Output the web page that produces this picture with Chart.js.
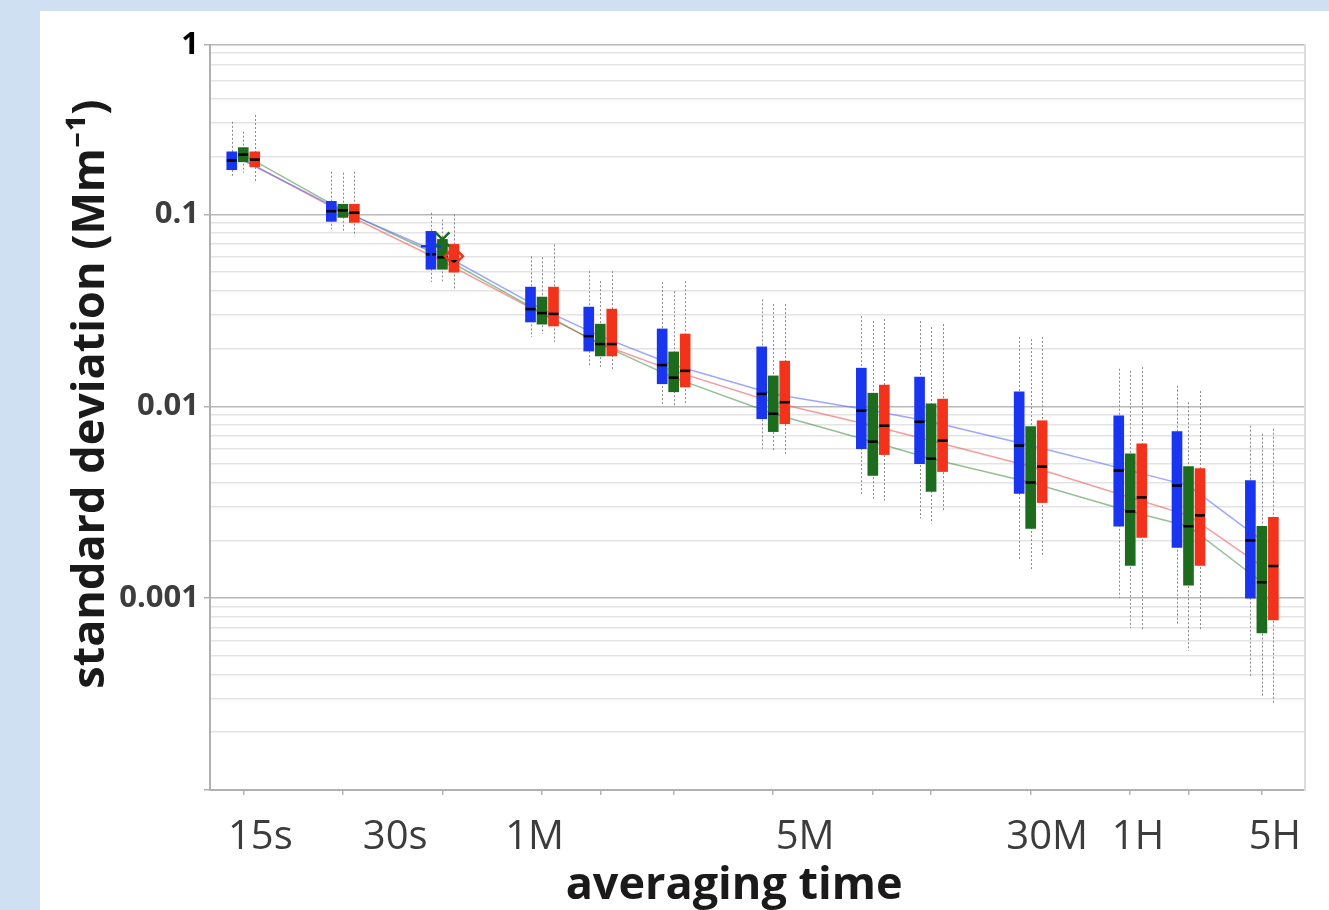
<!DOCTYPE html>
<html>
<head>
<meta charset="utf-8">
<script src="https://cdn.jsdelivr.net/npm/chart.js@4"></script>
<style>
  html, body { margin: 0; padding: 0; background: #cfe0f3; overflow: hidden; }
  #panel { position: absolute; left: 40px; top: 11px; right: 0; bottom: 0; background: #fff; }
  #c { position: absolute; left: 0; top: 0; }
</style>
</head>
<body>
<div id="panel"><canvas id="c" width="1289" height="905"></canvas></div>
<script>
// averaging times of the 13 box groups, in seconds
const groupTimes = [15, 30, 60, 120, 180, 300, 600, 1200, 1800, 3600, 7200, 10800, 18000];

// x labels: the picture prints them off their ticks, so keep where they sit (s)
const xLabelText = ['15s', '30s', '1M', '5M', '30M', '1H', '5H'];
const xLabelPlace = [16.9, 43.2, 114, 749, 4040, 7600, 19700];

// y axis: the top of the plot is labelled "1"
const yTop = 0.764;
const yMin = 0.0001;
const yTickValues = [yTop, 0.1, 0.01, 0.001];
const yTickLabels = ['1', '0.1', '0.01', '0.001'];

// blue series (Mm-1)
const blueLow = [0.171, 0.092, 0.0518, 0.0275, 0.0194, 0.0131, 0.00861, 0.00601, 0.00502, 0.00351, 0.00237, 0.00184, 0.0010];
const blueHigh = [0.212, 0.117, 0.0816, 0.0418, 0.0329, 0.0253, 0.0204, 0.0158, 0.0142, 0.0119, 0.00893, 0.00738, 0.0041];
const blueMedian = [0.191, 0.104, 0.062, 0.0321, 0.0232, 0.0164, 0.0116, 0.00948, 0.0083, 0.00624, 0.00462, 0.00386, 0.0020];
const blueWhiskerLow = [0.156, 0.0836, 0.0444, 0.0230, 0.0162, 0.0103, 0.00601, 0.00343, 0.00261, 0.00157, 0.00100, 0.000724, 0.000394];
const blueWhiskerHigh = [0.304, 0.167, 0.102, 0.0605, 0.0506, 0.0444, 0.0361, 0.0295, 0.0278, 0.0230, 0.0157, 0.0128, 0.00792];

// green series
const greenLow = [0.188, 0.0965, 0.0518, 0.0268, 0.0183, 0.0119, 0.00738, 0.00436, 0.0036, 0.00231, 0.00148, 0.00117, 0.000658];
const greenHigh = [0.223, 0.113, 0.0741, 0.0371, 0.0268, 0.0192, 0.0144, 0.0117, 0.0103, 0.00783, 0.00566, 0.00485, 0.00237];
const greenMedian = [0.205, 0.105, 0.0598, 0.0306, 0.0211, 0.0141, 0.00914, 0.00654, 0.00533, 0.00401, 0.00283, 0.00237, 0.00121];
const greenWhiskerLow = [0.165, 0.0806, 0.0449, 0.0238, 0.0160, 0.00993, 0.00581, 0.00331, 0.00245, 0.0014, 0.000698, 0.000531, 0.000303];
const greenWhiskerHigh = [0.270, 0.165, 0.0942, 0.0598, 0.0449, 0.0398, 0.0341, 0.0278, 0.0259, 0.0224, 0.0153, 0.0105, 0.0072];

// red series
const redLow = [0.177, 0.0909, 0.050, 0.0262, 0.0183, 0.0126, 0.00811, 0.0056, 0.00457, 0.00315, 0.00207, 0.00148, 0.000769];
const redHigh = [0.212, 0.113, 0.0698, 0.0418, 0.0321, 0.0238, 0.0172, 0.0129, 0.0109, 0.00841, 0.00638, 0.00473, 0.00264];
const redMedian = [0.193, 0.102, 0.057, 0.0303, 0.0211, 0.0153, 0.0105, 0.00792, 0.00662, 0.00485, 0.00335, 0.0027, 0.00147];
const redWhiskerLow = [0.148, 0.0769, 0.0408, 0.0216, 0.0153, 0.0101, 0.00566, 0.00323, 0.00283, 0.00167, 0.000674, 0.000674, 0.000285];
const redWhiskerHigh = [0.330, 0.167, 0.100, 0.0698, 0.0506, 0.0449, 0.0341, 0.0285, 0.0268, 0.0230, 0.016, 0.012, 0.00764];

// single extra markers at the 1M group
const blueMarker = [null, null, 0.0682, null, null, null, null, null, null, null, null, null, null];
const greenMarker = [null, null, 0.0741, null, null, null, null, null, null, null, null, null, null];
const redMarker = [null, null, 0.0605, null, null, null, null, null, null, null, null, null, null];

const series = [
  { color: '#1a35f0', line: 'rgba(90,110,255,0.6)', low: blueLow, high: blueHigh, median: blueMedian,
    wLow: blueWhiskerLow, wHigh: blueWhiskerHigh, marker: blueMarker, shape: 'plus' },
  { color: '#1d6b1d', line: 'rgba(60,140,60,0.55)', low: greenLow, high: greenHigh, median: greenMedian,
    wLow: greenWhiskerLow, wHigh: greenWhiskerHigh, marker: greenMarker, shape: 'cross' },
  { color: '#f2321a', line: 'rgba(240,90,90,0.6)', low: redLow, high: redHigh, median: redMedian,
    wLow: redWhiskerLow, wHigh: redWhiskerHigh, marker: redMarker, shape: 'diamond' },
];

function buildYTicks(scale) {
  const out = [];
  for (let e = -4; e <= -1; e++) {
    for (let m = 1; m <= 9; m++) {
      const v = +(m * Math.pow(10, e)).toPrecision(6);
      if (v >= yMin && v <= yTop) out.push({ value: v, big: m === 1, text: '' });
    }
  }
  out.push({ value: yTop, big: true, text: '' });
  yTickValues.forEach((v, k) => {
    const t = out.find((o) => Math.abs(o.value - v) < v * 1e-6);
    if (t) t.text = yTickLabels[k];
  });
  scale.ticks = out;
}

function buildXTicks(scale) {
  const out = groupTimes.map((t) => ({ value: t, text: '' }));
  xLabelPlace.forEach((t, k) => out.push({ value: t, text: xLabelText[k] }));
  out.sort((a, b) => a.value - b.value);
  scale.ticks = out;
}

// whiskers behind the boxes, medians and the 1M markers on top
const boxExtras = {
  id: 'boxExtras',
  beforeDatasetsDraw(chart) {
    const { ctx } = chart;
    const y = chart.scales.y;
    ctx.save();
    ctx.strokeStyle = '#8a8a8a';
    ctx.lineWidth = 1;
    ctx.setLineDash([2, 2]);
    series.forEach((s, i) => {
      chart.getDatasetMeta(i).data.forEach((bar, j) => {
        const x = Math.round(bar.x) + 0.5;
        ctx.beginPath();
        ctx.moveTo(x, y.getPixelForValue(s.wHigh[j]));
        ctx.lineTo(x, y.getPixelForValue(s.wLow[j]));
        ctx.stroke();
      });
    });
    ctx.restore();
  },
  afterDatasetsDraw(chart) {
    const { ctx } = chart;
    const y = chart.scales.y;
    ctx.save();
    series.forEach((s, i) => {
      chart.getDatasetMeta(i).data.forEach((bar, j) => {
        const py = y.getPixelForValue(s.median[j]);
        ctx.fillStyle = '#000';
        ctx.fillRect(bar.x - bar.width / 2, py - 1.25, bar.width, 2.5);
        if (s.marker[j] == null) return;
        const my = y.getPixelForValue(s.marker[j]);
        const mx = bar.x;
        ctx.strokeStyle = s.color;
        ctx.lineWidth = 2.5;
        ctx.beginPath();
        if (s.shape === 'plus') {
          ctx.moveTo(mx - 10, my); ctx.lineTo(mx + 10, my);
          ctx.moveTo(mx, my - 10); ctx.lineTo(mx, my + 10);
        } else if (s.shape === 'cross') {
          ctx.moveTo(mx - 7, my - 7); ctx.lineTo(mx + 7, my + 7);
          ctx.moveTo(mx + 7, my - 7); ctx.lineTo(mx - 7, my + 7);
        } else {
          ctx.moveTo(mx, my - 9); ctx.lineTo(mx + 9, my);
          ctx.lineTo(mx, my + 9); ctx.lineTo(mx - 9, my); ctx.closePath();
        }
        ctx.stroke();
      });
    });
    ctx.restore();
  },
};

const barSets = series.map((s) => ({
  type: 'bar',
  data: groupTimes.map((t, i) => ({ x: t, y: [s.low[i], s.high[i]] })),
  backgroundColor: s.color,
  barThickness: 11.5,
  maxBarThickness: 10,
  order: 0,
}));

const lineSets = series.map((s) => ({
  type: 'line',
  data: groupTimes.map((t, i) => ({ x: t, y: s.median[i] })),
  borderColor: s.line,
  borderWidth: 1.5,
  pointRadius: 0,
  order: 1,
}));

const FONT = '"Open Sans", "Noto Sans", sans-serif';

new Chart(document.getElementById('c'), {
  type: 'bar',
  data: { datasets: [...barSets, ...lineSets] },
  plugins: [boxExtras],
  options: {
    responsive: false,
    animation: false,
    layout: { padding: { top: 34, right: 24, left: 0, bottom: 0 } },
    plugins: { legend: { display: false }, tooltip: { enabled: false } },
    scales: {
      x: {
        type: 'logarithmic',
        min: 11.9,
        max: 24300,
        offset: false,
        afterBuildTicks: buildXTicks,
        afterFit: (s) => { s.height = 126; },
        grid: {
          offset: false,
          drawOnChartArea: false,
          tickLength: 5,
          lineWidth: 1.5,
          tickColor: (c) => (c.tick && c.tick.text ? 'rgba(0,0,0,0)' : '#b5b5b5'),
        },
        border: { color: '#b0b0b0', width: 2 },
        ticks: {
          autoSkip: false,
          maxRotation: 0,
          padding: 19,
          color: '#3c3c3c',
          font: { family: FONT, size: 40 },
          callback: (v, i, ticks) => ticks[i].text,
        },
        title: {
          display: true,
          // trailing spaces: the picture centres this title a little left of the plot
          text: 'averaging time    ',
          color: '#1a1a1a',
          font: { family: FONT, size: 45, weight: 'bold' },
          padding: { top: 0, bottom: 3 },
        },
      },
      y: {
        type: 'logarithmic',
        position: 'left',
        min: yMin,
        max: yTop,
        afterBuildTicks: buildYTicks,
        afterFit: (s) => { s.width = 170; },
        grid: {
          lineWidth: 1.5,
          color: (c) => (c.tick && c.tick.big ? '#b8b8b8' : '#e4e4e4'),
          tickLength: 6,
          tickColor: (c) => (c.tick && c.tick.big ? '#b0b0b0' : 'rgba(0,0,0,0)'),
        },
        border: { color: '#b0b0b0', width: 2 },
        ticks: {
          autoSkip: false,
          padding: 5,
          color: (c) => (c.tick && c.tick.value === yTop ? '#000' : '#3d3d3d'),
          font: { family: FONT, size: 31, weight: 'bold' },
          callback: (v, i, ticks) => ticks[i].text,
        },
        title: {
          display: true,
          // leading spaces: the picture centres this title a little above the plot middle
          text: '    standard deviation (Mm⁻¹)',
          color: '#1a1a1a',
          font: { family: FONT, size: 45, weight: 'bold' },
          padding: { top: 24, bottom: 0 },
        },
      },
      yr: {
        type: 'logarithmic',
        position: 'right',
        min: yMin,
        max: yTop,
        grid: { display: false },
        ticks: { display: false },
        border: { color: '#dcdcdc', width: 2 },
        afterFit: (s) => { s.width = 0; },
      },
    },
  },
});
</script>
</body>
</html>
